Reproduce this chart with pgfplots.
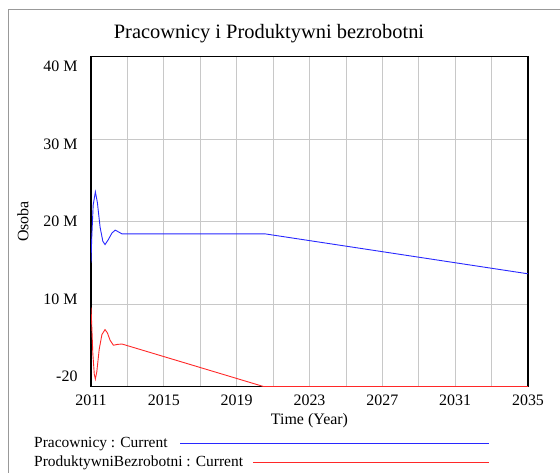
\documentclass[border=0pt]{standalone}
\usepackage{pgfplots}
\pgfplotsset{compat=1.18}
\usepackage{fontspec}
\setmainfont{Liberation Serif}
\definecolor{vblue}{RGB}{40,40,255}
\definecolor{vred}{RGB}{255,40,40}
\definecolor{vgrid}{RGB}{200,200,200}
\begin{document}
\begin{tikzpicture}[x=1bp,y=1bp]
\useasboundingbox (0,0) rectangle (560,473);
\draw[gray!80,line width=0.8bp] (8.5,0) -- (8.5,464) -- (560,464);
\node[font=\fontsize{20.5}{24}\selectfont] at (269,439) {Pracownicy i Produktywni bezrobotni};
\begin{axis}[
  at={(91bp,86.5bp)}, anchor=south west,
  scale only axis, width=437bp, height=330bp,
  xmin=2011, xmax=2035, ymin=-0.00002, ymax=40,
  xtick={2011,2015,...,2035},
  minor xtick={2013,2017,...,2033},
  ytick={0,10,20,30,40},
  yticklabels={-20,10 M,20 M,30 M,40 M},
  grid=both,
  major grid style={vgrid,line width=0.8bp},
  minor grid style={vgrid,line width=0.8bp},
  major tick length=0pt, minor tick length=0pt,
  axis line style={black,line width=1.6bp},
  tick label style={font=\fontsize{16}{19}\selectfont},
  /pgf/number format/assume math mode=true,
  xticklabel={\pgfmathprintnumber[1000 sep={}]{\tick}},
  xticklabel style={yshift=-5bp},
  yticklabel style={xshift=-10bp,yshift={(2-\ticknum)*5bp}},
  xlabel={Time (Year)}, ylabel={Osoba},
  label style={font=\fontsize{16}{19}\selectfont},
  xlabel style={yshift=-1bp},
  ylabel style={yshift=8bp},
  clip=true,
]
\addplot[vblue,line width=0.9bp] coordinates {
(2011.00,15.0) (2011.04,18.0) (2011.12,22.0) (2011.24,23.6) (2011.35,22.3)
(2011.50,19.3) (2011.65,17.6) (2011.77,17.2) (2011.95,17.8) (2012.15,18.6)
(2012.33,18.95) (2012.50,18.75) (2012.70,18.5) (2014.00,18.5) (2020.56,18.5)
(2035.00,13.66)};
\addplot[vred,line width=0.9bp] coordinates {
(2011.00,9.6) (2011.03,8.0) (2011.10,4.0) (2011.18,1.5) (2011.24,0.9)
(2011.32,1.8) (2011.45,4.5) (2011.60,6.3) (2011.77,6.9) (2011.90,6.5)
(2012.05,5.6) (2012.23,5.0) (2012.45,5.1) (2012.70,5.15) (2020.47,0)
(2035.00,0)};
\end{axis}
\node[anchor=west,font=\fontsize{15.5}{18}\selectfont,inner sep=0pt] at (34,29) {Pracownicy : Current};
\draw[vblue,line width=0.9bp] (180,29.5) -- (489,29.5);
\node[anchor=west,font=\fontsize{15.5}{18}\selectfont,inner sep=0pt] at (34,10) {ProduktywniBezrobotni : Current};
\draw[vred,line width=0.9bp] (253,10.5) -- (489,10.5);
\end{tikzpicture}
\end{document}
